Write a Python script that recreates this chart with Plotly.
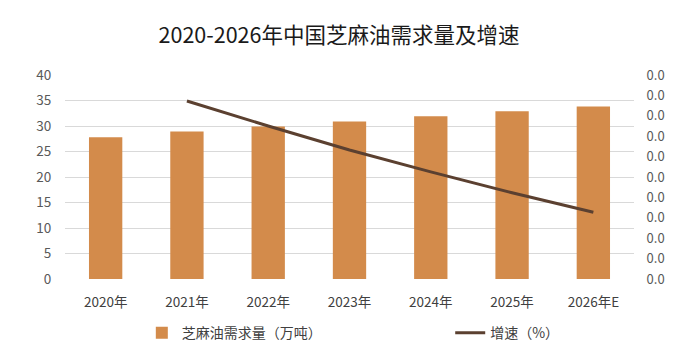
import plotly.graph_objects as go

years = ["2020年", "2021年", "2022年", "2023年", "2024年", "2025年", "2026年E"]
demand = [27.8, 28.9, 29.9, 30.9, 31.9, 32.9, 33.8]
growth_years = ["2021年", "2022年", "2023年", "2024年", "2025年", "2026年E"]
growth = [0.0349, 0.0300, 0.0253, 0.0210, 0.0169, 0.0131]

font_family = "Noto Sans CJK SC, Noto Sans, sans-serif"
fig = go.Figure()
fig.add_trace(go.Bar(
    x=years, y=demand, name="芝麻油需求量（万吨）", legend="legend",
    marker=dict(color="#D38B4B", line=dict(width=0)), width=0.41,
))
fig.add_trace(go.Scatter(
    x=growth_years, y=growth, name="增速（%）", yaxis="y2", legend="legend2",
    mode="lines", line=dict(color="#5B4030", width=3),
))
leg_common = dict(orientation="h", xanchor="left", y=-0.265, yanchor="middle",
                  font=dict(size=14, color="#404040"), bgcolor="rgba(0,0,0,0)")
fig.update_layout(
    width=678, height=356,
    margin=dict(l=65, r=44, t=75, b=77, autoexpand=False),
    paper_bgcolor="white", plot_bgcolor="white",
    font=dict(family=font_family, size=13, color="#595959"),
    title=dict(text="2020-2026年中国芝麻油需求量及增速", x=0.5, xanchor="center",
               y=0.9, yanchor="middle",
               font=dict(family=font_family, size=21.5, color="#1a1a1a")),
    showlegend=True,
    legend=dict(x=0.135, **leg_common),
    legend2=dict(x=0.677, **leg_common),
    xaxis=dict(type="category", showgrid=False, showline=False, zeroline=False,
               automargin=False,
               ticks="outside", ticklen=11, tickcolor="rgba(0,0,0,0)",
               tickfont=dict(size=13.5, color="#404040")),
    yaxis=dict(range=[0, 40], dtick=5, showgrid=True, gridcolor="#D9D9D9", gridwidth=1,
               automargin=False,
               zeroline=False, showline=False, ticks="outside", ticklen=10,
               tickcolor="rgba(0,0,0,0)", tickfont=dict(size=13.5, color="#595959")),
    yaxis2=dict(range=[0, 0.04], dtick=0.004, tickformat=".1f", overlaying="y", side="right",
                automargin=False,
                showgrid=False, zeroline=False, showline=False, ticks="outside", ticklen=9,
                tickcolor="rgba(0,0,0,0)", tickfont=dict(size=13, color="#595959")),
)
fig.write_html("out.html", config={"displayModeBar": False},
               post_script="document.body.style.margin='0';")
